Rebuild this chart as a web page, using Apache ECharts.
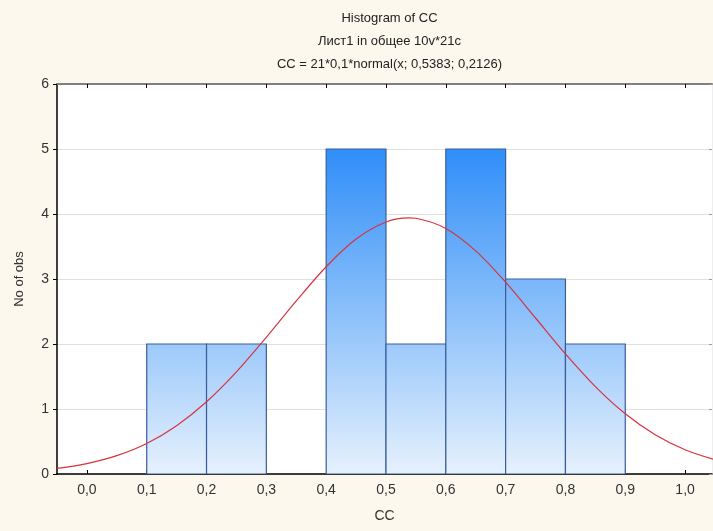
<!DOCTYPE html>
<html>
<head>
<meta charset="utf-8">
<script src="https://cdn.jsdelivr.net/npm/echarts@6/dist/echarts.min.js"></script>
<style>
  html, body { margin: 0; padding: 0; background: #fcf8ee; }
  #chart { width: 713px; height: 531px; }
</style>
</head>
<body>
<div id="chart"></div>
<script>
// Histogram bins (lower edge, upper edge) and observation counts
const binStarts = [0.1, 0.2, 0.3, 0.4, 0.5, 0.6, 0.7, 0.8];
const binEnds   = [0.2, 0.3, 0.4, 0.5, 0.6, 0.7, 0.8, 0.9];
const counts    = [2, 2, 0, 5, 2, 5, 3, 2];

// Expected-normal curve sampled along the axis
const curveX = [-0.05, 0.0, 0.05, 0.1, 0.15, 0.2, 0.25, 0.3, 0.35, 0.4, 0.45, 0.5, 0.5383,
                0.55, 0.6, 0.65, 0.7, 0.75, 0.8, 0.85, 0.9, 0.95, 1.0, 1.05];
const curveY = [0.086, 0.160, 0.282, 0.470, 0.743, 1.111, 1.571, 2.103, 2.662, 3.189, 3.615, 3.877, 3.941,
                3.935, 3.778, 3.433, 2.951, 2.400, 1.847, 1.345, 0.927, 0.604, 0.373, 0.218];

// Axis ticks and their labels (decimal comma)
const xTickValues = [0.0, 0.1, 0.2, 0.3, 0.4, 0.5, 0.6, 0.7, 0.8, 0.9, 1.0];
const xTicks = ['0,0', '0,1', '0,2', '0,3', '0,4', '0,5', '0,6', '0,7', '0,8', '0,9', '1,0'];
const yTicks = ['0', '1', '2', '3', '4', '5', '6'];

const titleLines = ['Histogram of CC', 'Лист1 in общее 10v*21c', 'CC = 21*0,1*normal(x; 0,5383; 0,2126)'];

const FONT = '"Liberation Sans", Arial, sans-serif';

const chart = echarts.init(document.getElementById('chart'), null, { renderer: 'canvas' });

const gridL = 57, gridR = 1, gridT = 84, gridB = 57;

const barData = binStarts.map((s, i) => [s, binEnds[i], counts[i]]);
const curveData = curveX.map((x, i) => [x, curveY[i]]);

function xLabel(v) {
  const idx = xTickValues.findIndex(t => Math.abs(t - v) < 1e-6);
  return idx >= 0 ? xTicks[idx] : '';
}
function yLabel(v) {
  const idx = Math.round(v);
  return yTicks[idx] !== undefined ? yTicks[idx] : '';
}

const barFill = new echarts.graphic.LinearGradient(0, 149, 0, 474, [
  { offset: 0, color: '#2f8ef8' },
  { offset: 1, color: '#e6f1fd' }
], true);

chart.setOption({
  backgroundColor: '#fcf8ee',
  animation: false,
  title: {
    text: titleLines.join('\n'),
    left: (gridL + 713 - gridR) / 2,
    top: 2,
    textAlign: 'center',
    textStyle: { fontFamily: FONT, fontSize: 13, fontWeight: 'normal', color: '#222', lineHeight: 23 }
  },
  grid: {
    left: gridL, right: gridR, top: gridT, bottom: gridB,
    show: true, backgroundColor: '#ffffff', borderWidth: 0
  },
  xAxis: [{
    type: 'value', min: -0.05, max: 1.045,
    name: 'CC', nameLocation: 'middle', nameGap: 35,
    nameTextStyle: { fontFamily: FONT, fontSize: 14, color: '#333' },
    axisLine: { show: true, onZero: false, lineStyle: { color: '#000', width: 1.5 } },
    axisTick: { show: true, inside: true, length: 4, lineStyle: { color: '#000' },
                customValues: xTickValues },
    axisLabel: { fontFamily: FONT, fontSize: 14, color: '#333', margin: 9,
                 customValues: xTickValues, formatter: v => xLabel(v) },
    splitLine: { show: false }
  }, {
    type: 'value', position: 'top', min: -0.05, max: 1.045,
    axisLine: { show: true, onZero: false, lineStyle: { color: '#808080', width: 2 } },
    axisTick: { show: true, inside: true, length: 4, lineStyle: { color: '#000' },
                customValues: xTickValues },
    axisLabel: { show: false, customValues: xTickValues },
    splitLine: { show: false }
  }],
  yAxis: [{
    type: 'value', min: 0, max: 6, interval: 1,
    name: 'No of obs', nameLocation: 'middle', nameGap: 31, nameRotate: 90,
    nameTextStyle: { fontFamily: FONT, fontSize: 13, color: '#333' },
    axisLine: { show: true, onZero: false, lineStyle: { color: '#000', width: 1.5 } },
    axisTick: { show: true, inside: false, length: 4, lineStyle: { color: '#000' } },
    axisLabel: { fontFamily: FONT, fontSize: 14, color: '#333', margin: 8, formatter: v => yLabel(v) },
    splitLine: { show: true, lineStyle: { color: '#e0e0e0', width: 1 } }
  }, {
    type: 'value', position: 'right', min: 0, max: 6, interval: 1,
    axisLine: { show: true, onZero: false, lineStyle: { color: '#eeeeee', width: 1 } },
    axisTick: { show: true, inside: true, length: 3, lineStyle: { color: '#999' } },
    axisLabel: { show: false },
    splitLine: { show: false }
  }],
  series: [{
    type: 'custom',
    xAxisIndex: 0, yAxisIndex: 0,
    data: barData,
    clip: true,
    renderItem: function (params, api) {
      const v = api.value(2);
      if (!v) return null;
      const p0 = api.coord([api.value(0), v]);
      const p1 = api.coord([api.value(1), 0]);
      return {
        type: 'rect',
        shape: { x: p0[0], y: p0[1], width: p1[0] - p0[0], height: p1[1] - p0[1] },
        style: { fill: barFill, stroke: '#3a5e9c', lineWidth: 1.2 }
      };
    },
    z: 2
  }, {
    type: 'line',
    xAxisIndex: 0, yAxisIndex: 0,
    data: curveData,
    smooth: 0.3,
    showSymbol: false,
    clip: true,
    lineStyle: { color: '#d8323e', width: 1.2 },
    z: 3
  }]
});
</script>
</body>
</html>
